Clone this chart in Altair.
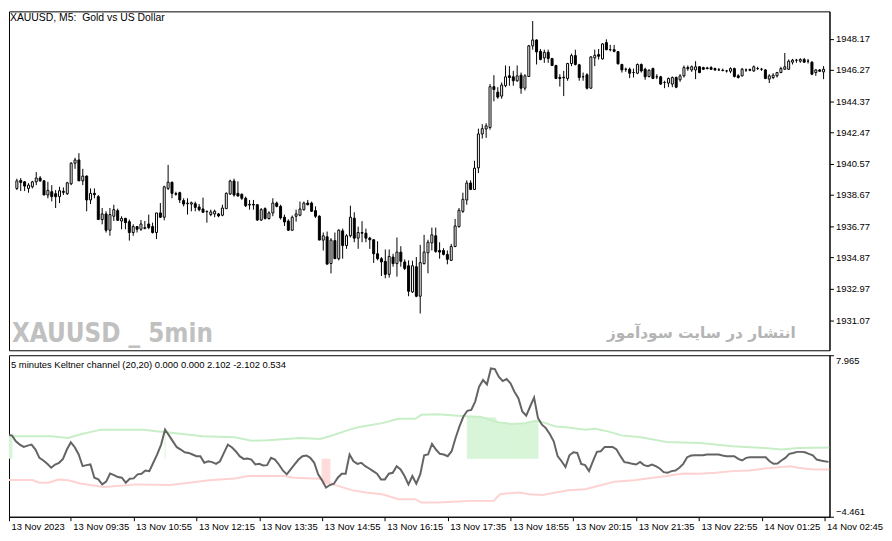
import altair as alt
import pandas as pd

# ---------------- candle data (5-minute bars, index 0 = 13 Nov 08:20) ----------------
open_ = [
    1939.07, 1939.55, 1939.47, 1939.07, 1939.17, 1939.47, 1939.70, 1939.53, 1938.67, 1938.87,
    1938.75, 1938.57, 1938.89, 1938.75, 1939.35, 1940.60, 1940.80, 1939.53, 1939.82, 1938.37,
    1938.77, 1938.57, 1937.18, 1937.52, 1936.53, 1937.38, 1937.72, 1937.09, 1937.25, 1937.05,
    1936.39, 1936.75, 1936.59, 1936.63, 1936.91, 1936.75, 1936.39, 1937.58, 1937.32, 1939.07,
    1939.45, 1938.75, 1938.81, 1938.33, 1938.14, 1938.12, 1938.14, 1937.94, 1937.82, 1937.66,
    1937.48, 1937.52, 1937.52, 1937.44, 1937.84, 1938.73, 1939.52, 1938.77, 1938.71, 1938.47,
    1938.06, 1938.10, 1938.08, 1937.15, 1937.84, 1937.24, 1937.58, 1938.18, 1937.98, 1937.32,
    1937.09, 1936.53, 1937.38, 1937.44, 1937.78, 1938.18, 1938.18, 1937.72, 1937.38, 1935.93,
    1936.13, 1934.51, 1935.90, 1934.80, 1936.49, 1935.60, 1936.19, 1937.26, 1936.05, 1936.39,
    1936.35, 1936.05, 1935.95, 1935.10, 1934.80, 1934.64, 1933.85, 1934.90, 1934.50, 1935.20,
    1934.60, 1934.37, 1932.78, 1934.31, 1932.52, 1934.50, 1935.16, 1935.76, 1936.19, 1935.30,
    1935.30, 1935.06, 1934.70, 1935.54, 1936.75, 1937.68, 1938.37, 1939.40, 1939.01, 1940.32,
    1942.38, 1942.68, 1942.77, 1945.25, 1944.92, 1944.68, 1945.31, 1945.91, 1945.85, 1945.61,
    1945.95, 1945.16, 1945.87, 1947.73, 1948.09, 1947.40, 1947.00, 1947.34, 1946.96, 1946.54,
    1945.81, 1945.79, 1945.75, 1946.66, 1947.14, 1946.58, 1945.85, 1945.97, 1945.16, 1947.00,
    1947.20, 1946.94, 1947.93, 1947.50, 1947.50, 1947.38, 1946.60, 1946.31, 1946.31, 1946.11,
    1946.07, 1946.60, 1946.31, 1945.87, 1946.35, 1945.85, 1945.85, 1945.51, 1945.47, 1945.41,
    1945.81, 1945.67, 1945.91, 1946.41, 1946.27, 1946.27, 1946.46, 1946.41, 1946.39, 1946.41,
    1946.35, 1946.27, 1946.25, 1946.21, 1946.19, 1946.35, 1945.91, 1945.91, 1946.27, 1946.29,
    1946.21, 1946.35, 1946.31, 1946.27, 1945.71, 1945.81, 1945.91, 1946.11, 1946.31, 1946.31,
    1946.74, 1946.86, 1946.80, 1946.90, 1946.80, 1946.74, 1946.11, 1946.27, 1946.15,
]
high = [
    1939.66, 1939.70, 1939.51, 1939.39, 1939.53, 1940.06, 1939.82, 1939.57, 1939.47, 1939.27,
    1938.97, 1939.17, 1939.13, 1939.47, 1940.66, 1940.93, 1941.21, 1940.26, 1939.86, 1939.07,
    1939.07, 1938.67, 1937.88, 1937.68, 1937.88, 1938.08, 1937.84, 1937.38, 1937.28, 1937.18,
    1936.89, 1936.79, 1937.15, 1937.09, 1937.48, 1936.99, 1937.58, 1938.18, 1939.23, 1940.50,
    1939.47, 1938.87, 1938.87, 1938.47, 1938.47, 1938.27, 1938.27, 1938.12, 1938.51, 1937.72,
    1937.78, 1937.78, 1937.58, 1938.08, 1938.83, 1939.60, 1939.66, 1939.50, 1938.77, 1938.57,
    1938.37, 1938.37, 1938.12, 1937.88, 1937.92, 1937.68, 1938.47, 1938.27, 1938.08, 1937.48,
    1937.19, 1937.42, 1937.78, 1938.27, 1938.27, 1938.37, 1938.27, 1937.98, 1937.44, 1936.39,
    1936.45, 1936.05, 1936.39, 1936.59, 1936.63, 1936.29, 1938.02, 1937.62, 1936.75, 1937.08,
    1936.63, 1936.13, 1935.99, 1935.86, 1934.90, 1935.36, 1935.36, 1935.10, 1936.09, 1935.56,
    1934.76, 1934.70, 1934.68, 1934.90, 1935.64, 1936.25, 1935.95, 1936.69, 1936.69, 1935.80,
    1935.44, 1935.30, 1935.70, 1937.22, 1937.88, 1938.81, 1939.56, 1939.56, 1940.75, 1942.70,
    1942.97, 1943.03, 1945.41, 1945.95, 1945.22, 1945.51, 1946.54, 1946.50, 1946.21, 1946.54,
    1946.11, 1946.01, 1947.79, 1949.24, 1948.13, 1947.54, 1947.50, 1947.50, 1947.00, 1946.58,
    1946.01, 1946.21, 1946.70, 1947.26, 1947.50, 1946.64, 1946.11, 1946.07, 1947.10, 1947.50,
    1947.54, 1947.89, 1948.13, 1947.79, 1947.79, 1947.42, 1946.64, 1946.41, 1946.41, 1946.35,
    1946.66, 1946.66, 1946.41, 1946.31, 1946.41, 1946.01, 1945.91, 1945.61, 1945.81, 1945.87,
    1945.87, 1946.01, 1946.54, 1946.54, 1946.54, 1946.80, 1946.50, 1946.46, 1946.46, 1946.50,
    1946.41, 1946.39, 1946.35, 1946.27, 1946.43, 1946.41, 1946.01, 1946.39, 1946.35, 1946.35,
    1946.54, 1946.46, 1946.39, 1946.31, 1946.01, 1946.07, 1946.15, 1946.46, 1947.30, 1946.90,
    1946.94, 1946.94, 1946.98, 1947.00, 1946.94, 1946.80, 1946.31, 1946.31, 1946.50,
]
low = [
    1938.97, 1938.91, 1938.91, 1938.81, 1939.07, 1939.27, 1939.47, 1938.67, 1938.47, 1938.28,
    1937.88, 1938.18, 1938.67, 1938.67, 1939.27, 1940.26, 1939.53, 1939.27, 1937.68, 1938.12,
    1938.47, 1937.18, 1936.89, 1936.39, 1936.19, 1937.09, 1937.09, 1936.59, 1936.59, 1935.90,
    1936.19, 1936.39, 1936.49, 1936.59, 1936.59, 1936.33, 1935.99, 1937.28, 1937.13, 1938.97,
    1938.47, 1938.63, 1938.18, 1937.98, 1937.48, 1937.68, 1937.68, 1937.68, 1937.58, 1936.99,
    1937.38, 1937.32, 1937.32, 1937.38, 1937.84, 1938.67, 1938.57, 1938.57, 1938.37, 1937.94,
    1937.78, 1937.78, 1937.09, 1937.09, 1937.18, 1937.18, 1937.38, 1937.92, 1937.18, 1936.79,
    1936.49, 1936.49, 1937.05, 1937.38, 1937.72, 1938.04, 1937.64, 1937.28, 1935.93, 1935.30,
    1934.47, 1933.91, 1934.80, 1934.70, 1934.80, 1935.40, 1936.09, 1935.80, 1935.40, 1935.80,
    1935.80, 1935.40, 1934.54, 1934.70, 1933.75, 1933.61, 1933.65, 1934.31, 1933.71, 1934.31,
    1934.11, 1932.52, 1932.72, 1932.46, 1931.47, 1934.45, 1933.91, 1935.30, 1935.16, 1934.80,
    1935.00, 1934.46, 1934.66, 1935.50, 1936.69, 1937.58, 1938.08, 1938.97, 1938.97, 1940.00,
    1942.10, 1942.14, 1942.64, 1944.36, 1944.52, 1944.52, 1945.22, 1945.31, 1945.31, 1945.55,
    1944.82, 1945.02, 1945.87, 1947.50, 1946.60, 1946.86, 1946.70, 1946.70, 1946.50, 1945.71,
    1945.26, 1944.68, 1945.61, 1946.50, 1946.54, 1945.61, 1945.61, 1945.08, 1945.12, 1946.50,
    1946.90, 1946.90, 1947.46, 1947.40, 1947.34, 1946.60, 1946.11, 1946.15, 1945.77, 1945.81,
    1946.01, 1946.11, 1945.67, 1945.81, 1945.71, 1945.71, 1945.36, 1945.16, 1945.22, 1945.22,
    1945.16, 1945.55, 1945.81, 1946.21, 1946.15, 1945.71, 1946.07, 1946.27, 1946.31, 1946.27,
    1946.21, 1946.21, 1946.19, 1946.11, 1946.07, 1945.81, 1945.75, 1945.87, 1946.15, 1946.19,
    1946.15, 1946.27, 1946.21, 1945.71, 1945.47, 1945.71, 1945.81, 1946.07, 1946.27, 1946.27,
    1946.60, 1946.70, 1946.70, 1946.70, 1946.66, 1945.95, 1945.91, 1946.15, 1945.71,
]
close = [
    1939.53, 1939.43, 1939.21, 1939.27, 1939.47, 1939.70, 1939.53, 1938.67, 1938.95, 1938.57,
    1938.57, 1938.93, 1938.83, 1939.41, 1940.60, 1940.80, 1939.53, 1939.82, 1938.37, 1938.77,
    1938.69, 1937.18, 1937.52, 1936.53, 1937.48, 1937.78, 1937.13, 1937.25, 1936.99, 1936.39,
    1936.75, 1936.59, 1936.91, 1936.69, 1936.69, 1936.39, 1937.58, 1937.32, 1939.17, 1939.45,
    1938.77, 1938.72, 1938.37, 1938.12, 1938.18, 1938.20, 1937.92, 1937.78, 1937.62, 1937.68,
    1937.64, 1937.68, 1937.40, 1937.88, 1938.77, 1939.52, 1938.67, 1938.61, 1938.47, 1938.02,
    1938.10, 1938.06, 1937.15, 1937.78, 1937.24, 1937.58, 1938.18, 1937.98, 1937.28, 1937.03,
    1936.53, 1937.32, 1937.52, 1937.82, 1938.18, 1938.08, 1937.68, 1937.38, 1935.93, 1936.19,
    1934.47, 1935.93, 1934.80, 1936.53, 1935.60, 1936.19, 1937.32, 1936.05, 1936.39, 1936.35,
    1936.05, 1935.95, 1935.10, 1934.80, 1934.60, 1933.85, 1934.94, 1934.50, 1935.20, 1934.64,
    1934.21, 1932.82, 1934.37, 1932.52, 1934.56, 1935.20, 1935.80, 1936.25, 1935.24, 1935.20,
    1935.06, 1934.76, 1935.54, 1936.79, 1937.74, 1938.41, 1939.40, 1939.01, 1940.30, 1942.38,
    1942.70, 1942.87, 1945.25, 1945.08, 1944.62, 1945.35, 1945.85, 1945.81, 1945.61, 1945.91,
    1945.16, 1945.91, 1947.73, 1948.09, 1947.36, 1946.90, 1947.34, 1946.96, 1946.54, 1945.75,
    1945.75, 1945.83, 1946.66, 1947.14, 1946.60, 1945.81, 1945.85, 1945.16, 1947.06, 1947.16,
    1947.10, 1947.85, 1947.50, 1947.50, 1947.40, 1946.64, 1946.27, 1946.31, 1946.07, 1946.11,
    1946.60, 1946.21, 1945.85, 1946.25, 1945.75, 1945.85, 1945.41, 1945.51, 1945.75, 1945.81,
    1945.22, 1945.91, 1946.41, 1946.35, 1946.46, 1946.46, 1946.11, 1946.31, 1946.35, 1946.31,
    1946.27, 1946.27, 1946.23, 1946.21, 1946.35, 1945.87, 1945.81, 1946.31, 1946.27, 1946.25,
    1946.46, 1946.35, 1946.31, 1945.75, 1945.91, 1945.95, 1946.11, 1946.35, 1946.46, 1946.80,
    1946.86, 1946.86, 1946.90, 1946.74, 1946.80, 1946.01, 1946.27, 1946.19, 1946.31,
]

price_ticks = [1931.07, 1932.97, 1934.87, 1936.77, 1938.67, 1940.57,
               1942.47, 1944.37, 1946.27, 1948.17]

time_tick_bars = [-0.75, 15, 31, 47, 63, 79, 95, 111, 127, 143, 159, 175, 191, 207]
time_tick_labels = ["13 Nov 2023", "13 Nov 09:35", "13 Nov 10:55", "13 Nov 12:15",
                    "13 Nov 13:35", "13 Nov 14:55", "13 Nov 16:15", "13 Nov 17:35",
                    "13 Nov 18:55", "13 Nov 20:15", "13 Nov 21:35", "13 Nov 22:55",
                    "14 Nov 01:25", "14 Nov 02:45"]

# ---------------- Keltner indicator (first value = bar -1) ----------------
kc_main = [
    1.83, 1.80, 1.34, 1.09, 0.91, 1.01, 1.09, 0.71, 0.07, -0.13, -0.39,
    -0.69, -0.44, -0.31, -0.01, 0.71, 1.27, 0.89, 0.33, -0.57, -0.49,
    -0.44, -1.46, -1.59, -1.97, -1.76, -1.13, -1.26, -1.41, -1.46, -1.84,
    -1.54, -1.51, -1.20, -1.15, -0.90, -0.95, -0.31, 0.33, 1.09, 2.24,
    1.80, 1.34, 0.89, 0.71, 0.50, 0.45, 0.33, 0.20, 0.20, -0.31,
    -0.19, -0.26, -0.39, -0.19, 0.45, 1.09, 0.89, 0.58, 0.20, -0.01,
    0.02, -0.06, -0.44, -0.39, -0.52, -0.49, 0.07, -0.06, -0.44, -0.90,
    -1.20, -0.82, -0.44, -0.06, 0.20, 0.25, 0.07, -0.31, -1.20, -1.66,
    -2.22, -2.02, -1.92, -1.46, -1.15, -1.15, 0.33, -0.19, -0.39, -0.31,
    -0.57, -0.75, -0.95, -1.15, -1.59, -1.59, -1.15, -1.08, -0.57, -0.82,
    -1.33, -1.97, -1.33, -1.92, -1.20, 0.27, 0.33, 1.14, 0.71, 0.38,
    0.33, 0.20, 0.58, 1.60, 2.49, 3.25, 3.69, 3.76, 4.40, 5.55,
    6.06, 5.72, 6.95, 6.90, 6.31, 5.98, 6.13, 5.80, 5.16, 4.66,
    3.64, 3.31, 4.02, 4.71, 3.13, 2.62, 2.36, 1.90, 1.34, 0.20,
    -0.19, -0.64, 0.27, 0.50, 0.45, -0.39, -0.49, -0.95, -0.19, 0.53,
    0.58, 0.91, 0.91, 0.91, 0.71, 0.20, -0.26, -0.31, -0.39, -0.44,
    -0.24, -0.49, -0.57, -0.44, -0.57, -0.75, -1.03, -1.08, -0.95, -0.90,
    -0.69, -0.39, 0.12, 0.25, 0.27, 0.27, 0.27, 0.33, 0.33, 0.33,
    0.33, 0.25, 0.20, 0.20, 0.20, -0.01, -0.13, 0.07, 0.12, 0.12,
    0.12, 0.12, 0.12, -0.19, -0.39, -0.36, -0.13, 0.07, 0.38, 0.45,
    0.53, 0.53, 0.50, 0.38, 0.27, -0.06, -0.13, -0.19, -0.24,
]

upper_bars = [-1, 10, 14.3, 17.8, 22.7, 33.5, 36.8, 43.5, 48.5, 56.8, 61, 65.2, 73.5,
              78.5, 81, 86, 88.5, 94.3, 98.5, 102.7, 104.3, 108.5, 113.5, 119.75, 123.5,
              127.25, 130.6, 133.5, 136, 138.5, 141.8, 146, 148.5, 151.8, 155.2, 160.2,
              166.8, 175.2, 183.5, 191.8, 196, 200.2, 208.25]
upper_vals = [1.73, 1.73, 1.60, 1.90, 2.24, 2.24, 2.11, 1.90, 1.73, 1.65, 1.39, 1.42, 1.60,
              1.52, 1.73, 2.24, 2.44, 2.74, 3.08, 3.08, 3.38, 3.43, 3.31, 3.20, 2.82,
              2.67, 2.74, 2.92, 2.74, 2.49, 2.41, 2.24, 2.31, 2.11, 1.80, 1.65,
              1.29, 1.22, 0.96, 0.83, 0.71, 0.83, 0.86]

lower_bars = [-1, 5.2, 7, 9.3, 11.8, 14.3, 17.7, 23.5, 31.8, 40.2, 45.2, 50.2, 56.8, 60.2,
              69.3, 71.8, 78.5, 81.8, 86.8, 90.2, 94.3, 98.5, 102.7, 104.3, 108.5, 113.5,
              116.8, 122.7, 124.3, 126.8, 129.3, 131.8, 135.2, 138.5, 141.8, 146, 150.2,
              153.5, 158.5, 161.8, 166.8, 171, 175.2, 179.3, 183.5, 187.7, 191.8, 196,
              198.5, 200.2, 204.3, 208.25]
lower_vals = [-1.64, -1.64, -1.84, -1.84, -1.59, -1.66, -1.92, -2.17, -1.97, -2.02, -1.84,
              -1.66, -1.51, -1.33, -1.33, -1.46, -1.54, -1.97, -2.43, -2.60, -2.73, -3.11,
              -3.11, -3.37, -3.37, -3.29, -3.24, -3.24, -2.73, -2.66, -2.60, -2.73, -2.78,
              -2.60, -2.43, -2.35, -2.02, -1.76, -1.66, -1.51, -1.33, -1.13, -1.15, -1.08,
              -0.95, -0.90, -0.75, -0.64, -0.57, -0.69, -0.82, -0.82]

fill_seg = ["g0", "g0", "g1"] + ["g2"] * 19 + ["p0"] * 3
fill_kind = ["up"] * 22 + ["down"] * 3
fill_bars = [-1, 0, 39, 116, 117, 118, 119, 120, 121, 122, 123, 124, 125, 126, 127, 128,
             129, 130, 131, 132, 133, 134, 79, 80, 81]
fill_vals = [1.73, 1.73, 2.23, 3.31, 3.31, 3.31, 3.31, 3.20, 3.20, 3.20, 3.20, 2.82, 2.82,
             2.82, 2.67, 2.67, 2.67, 2.67, 2.74, 2.74, 2.92, 2.92, -1.97, -1.97, -1.97]

# ---------------- frames ----------------
candles = pd.DataFrame({"bar": list(range(len(open_))), "open": open_, "high": high,
                        "low": low, "close": close})
main_df = pd.DataFrame({"bar": list(range(-1, len(kc_main) - 1)), "val": kc_main})
upper_df = pd.DataFrame({"bar": upper_bars, "val": upper_vals})
lower_df = pd.DataFrame({"bar": lower_bars, "val": lower_vals})
fill_df = pd.DataFrame({"bar": fill_bars, "val": fill_vals, "seg": fill_seg,
                        "kind": fill_kind, "base": [0.0] * len(fill_bars)})

W, H1, H2 = 828, 342, 163
FONT = "Liberation Sans, Arial, sans-serif"

xscale = alt.Scale(domain=[-0.75, 208.25], nice=False, zero=False)
pscale = alt.Scale(domain=[1929.236, 1949.827], nice=False, zero=False)
kscale = alt.Scale(domain=[-4.461, 7.965], nice=False, zero=False)

paxis = alt.Axis(orient="right", values=price_ticks, format=".2f", title=None,
                 tickSize=4, labelPadding=2, labelOverlap=False, grid=False)

xq = alt.X("bar:Q", scale=xscale, axis=None)

wicks = alt.Chart(candles).mark_rule(color="black", strokeWidth=1, clip=True).encode(
    x=xq, y=alt.Y("low:Q", scale=pscale, axis=paxis), y2="high:Q")
bodies = alt.Chart(candles).mark_bar(size=2, stroke="black", strokeWidth=1, clip=True).encode(
    x=xq, y=alt.Y("open:Q", scale=pscale, axis=paxis), y2="close:Q",
    fill=alt.condition("datum.close >= datum.open", alt.value("white"), alt.value("black")))

title_top = alt.Chart(pd.DataFrame({"t": ["XAUUSD, M5:\u00a0 Gold vs US Dollar"]})).mark_text(
    align="left", baseline="middle", font=FONT, fontSize=10.5, color="black").encode(
    text="t:N", x=alt.value(1), y=alt.value(7))
wm_left = alt.Chart(pd.DataFrame({"t": ["XAUUSD _ 5min"]})).mark_text(
    align="left", baseline="alphabetic", fontSize=26, fontWeight="bold", color="#c0c0c0",
    font="Liberation Sans Narrow, DejaVu Sans Condensed, Liberation Sans, sans-serif").encode(
    text="t:N", x=alt.value(3), y=alt.value(H1 - 8))
wm_right = alt.Chart(pd.DataFrame({"t": ["انتشار در سایت سودآموز"]})).mark_text(
    align="right", baseline="alphabetic", fontSize=15.5, fontWeight="bold", color="#b4b4b4",
    font="DejaVu Sans, sans-serif").encode(
    text="t:N", x=alt.value(W - 34), y=alt.value(H1 - 12))

top = alt.layer(wicks, bodies, title_top, wm_left, wm_right).properties(width=W, height=H1)

expr = "[" + ",".join("'" + s + "'" for s in time_tick_labels) + "][indexof([" + \
       ",".join(str(b) for b in time_tick_bars) + "], datum.value)]"
xaxis = alt.Axis(values=time_tick_bars, labelExpr=expr, labelAlign="left", labelOffset=2,
                 tickSize=4, labelPadding=1, title=None, labelFlush=False,
                 labelOverlap=False, grid=False)
kaxis = alt.Axis(orient="right", values=[-4.461, 7.965], format=".3f", title=None,
                 tickSize=4, labelPadding=2, labelFlush=True, labelOverlap=False, grid=False)
xk = alt.X("bar:Q", scale=xscale, axis=xaxis)
yk = alt.Y("val:Q", scale=kscale, axis=kaxis)

fill_color = alt.Color("kind:N", scale=alt.Scale(domain=["up", "down"],
                                                 range=["#d9f5d9", "#ffdcdc"]), legend=None)
fills = alt.Chart(fill_df).mark_area(opacity=1, clip=True).encode(
    x=xk, y=yk, y2="base:Q", detail="seg:N", color=fill_color)
fill_rules = alt.Chart(fill_df).mark_rule(strokeWidth=1, clip=True).encode(
    x=xk, y=yk, y2="base:Q", color=fill_color)
upper = alt.Chart(upper_df).mark_line(color="#c8eec8", strokeWidth=2, clip=True).encode(x=xk, y=yk)
lower = alt.Chart(lower_df).mark_line(color="#ffd2d2", strokeWidth=2, clip=True).encode(x=xk, y=yk)
main = alt.Chart(main_df).mark_line(color="#646464", strokeWidth=2, clip=True).encode(x=xk, y=yk)
title_bot = alt.Chart(pd.DataFrame({"t": ["5 minutes Keltner channel (20,20) 0.000 0.000 2.102 -2.102 0.534"]})).mark_text(
    align="left", baseline="middle", font=FONT, fontSize=9.5, color="black").encode(
    text="t:N", x=alt.value(2), y=alt.value(10))

bottom = alt.layer(fills, fill_rules, upper, lower, main, title_bot).properties(width=W, height=H2)

chart = alt.vconcat(top, bottom, spacing=3).properties(
    padding=0, background="white"
).configure_view(stroke="black", strokeWidth=1).configure_axis(
    labelFont=FONT, labelFontSize=9.5, labelColor="black", tickColor="black",
    domainColor="black", domainWidth=1, tickWidth=1
)

chart.save("out.html", embed_options={"renderer": "svg", "actions": False})
